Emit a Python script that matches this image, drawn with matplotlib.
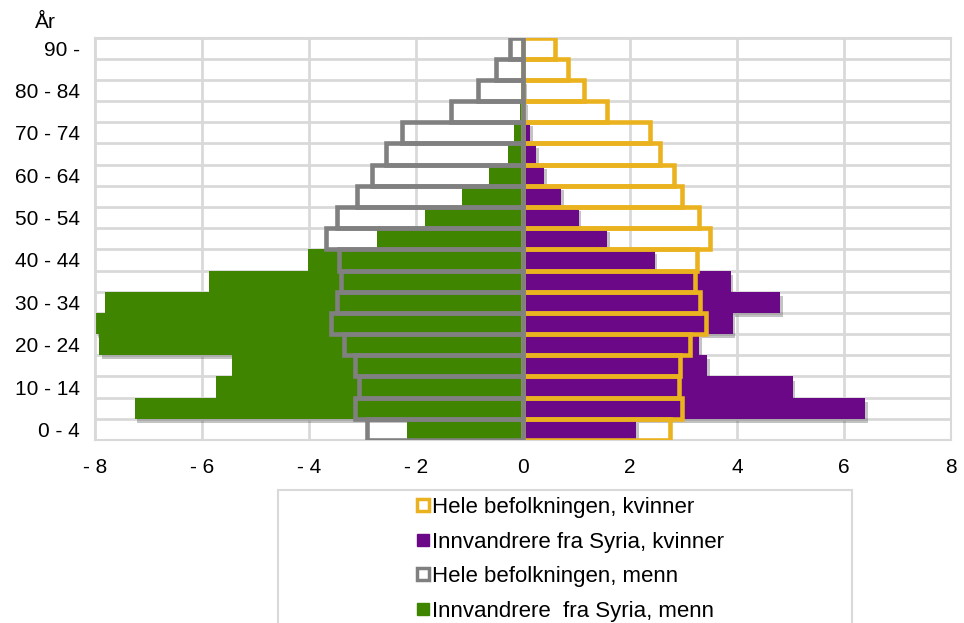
import matplotlib
matplotlib.use("Agg")
import matplotlib.pyplot as plt
import matplotlib.patheffects as pe
from matplotlib.lines import Line2D
from matplotlib.patches import Rectangle
import numpy as np

plt.rcParams['font.family'] = ['Liberation Sans', 'DejaVu Sans']

# Age groups, bottom to top
age_groups = ["0 - 4", "5 - 9", "10 - 14", "15 - 19", "20 - 24", "25 - 29",
              "30 - 34", "35 - 39", "40 - 44", "45 - 49", "50 - 54", "55 - 59",
              "60 - 64", "65 - 69", "70 - 74", "75 - 79", "80 - 84", "85 - 89",
              "90 -"]

# Percent of population (men negative)
men_total = [-2.91, -3.14, -3.06, -3.14, -3.34, -3.58, -3.47, -3.40, -3.44, -3.68,
             -3.47, -3.11, -2.83, -2.57, -2.27, -1.35, -0.84, -0.50, -0.25]
men_syria = [-2.16, -7.26, -5.74, -5.44, -7.92, -8.00, -7.81, -5.86, -4.02, -2.73,
             -1.83, -1.14, -0.63, -0.28, -0.16, -0.05, -0.03, -0.01, 0.0]
women_total = [2.75, 2.97, 2.91, 2.94, 3.12, 3.42, 3.30, 3.21, 3.25, 3.49,
               3.29, 2.97, 2.83, 2.56, 2.37, 1.57, 1.14, 0.85, 0.59]
women_syria = [2.12, 6.40, 5.04, 3.44, 3.29, 3.92, 4.81, 3.88, 2.46, 1.57,
               1.04, 0.71, 0.39, 0.25, 0.13, 0.04, 0.02, 0.01, 0.0]

x_ticks = [-8, -6, -4, -2, 0, 2, 4, 6, 8]
x_labels = ["- 8", "- 6", "- 4", "- 2", "0", "2", "4", "6", "8"]

legend_labels = ["Hele befolkningen, kvinner", "Innvandrere fra Syria, kvinner",
                 "Hele befolkningen, menn", "Innvandrere  fra Syria, menn"]

gold = '#EBB21F'
purple = '#6A0888'
gray = '#808080'
green = '#3F8500'
grid_col = '#D9D9D9'

fig = plt.figure(figsize=(9.64, 6.23), dpi=100)
ax = fig.add_axes([95 / 964, 1 - 440 / 623, (951 - 95) / 964, (440 - 37.5) / 623])

y = np.arange(len(age_groups))
shadow = [pe.SimplePatchShadow(offset=(2, -3), shadow_rgbFace='#555555', alpha=0.35),
          pe.Normal()]

# draw top rows first so lower bars cover the shadows above them
order = y[::-1]
ax.barh(order, np.array(men_syria)[order], height=1.0, color=green,
        zorder=2, path_effects=shadow)
ax.barh(order, np.array(women_syria)[order], height=1.0, color=purple,
        zorder=2, path_effects=shadow)
ax.barh(y, women_total, height=1.0, fill=False, edgecolor=gold,
        linewidth=3.3, zorder=3)
ax.barh(y, men_total, height=1.0, fill=False, edgecolor=gray,
        linewidth=3.3, zorder=4)

ax.set_xlim(-8, 8)
ax.set_ylim(-0.5, len(age_groups) - 0.5)
ax.set_xticks(x_ticks)
ax.set_xticklabels(x_labels)
ax.set_yticks(y[::2])
ax.set_yticklabels(age_groups[::2])
ax.set_yticks(np.arange(-0.5, len(age_groups)), minor=True)
ax.tick_params(axis='both', which='both', length=0, labelsize=15)
ax.tick_params(axis='x', pad=13)
ax.tick_params(axis='y', pad=11)
ax.grid(True, axis='x', which='major', color=grid_col, linewidth=2, zorder=0)
ax.grid(True, axis='y', which='minor', color=grid_col, linewidth=2, zorder=0)
ax.set_axisbelow(True)
for s in ax.spines.values():
    s.set_color(grid_col)
    s.set_linewidth(1.5)

fig.text(45 / 964, 1 - 22 / 623, "År", fontsize=15, ha='center', va='center')

# legend box (cut off at the bottom like the original)
fig.add_artist(Rectangle((278 / 964, -0.05), (852 - 278) / 964, 0.05 + (623 - 490) / 623,
                         transform=fig.transFigure, fill=False, edgecolor=grid_col,
                         linewidth=1.5))
handles = [
    Line2D([], [], linestyle='none', marker='s', markersize=8, markerfacecolor='white',
           markeredgecolor=gold, markeredgewidth=2.5),
    Line2D([], [], linestyle='none', marker='s', markersize=9, color=purple),
    Line2D([], [], linestyle='none', marker='s', markersize=8, markerfacecolor='white',
           markeredgecolor=gray, markeredgewidth=2.5),
    Line2D([], [], linestyle='none', marker='s', markersize=9, color=green),
]
fig.legend(handles, legend_labels, loc='upper left',
           bbox_to_anchor=(416 / 964, 1 - 497 / 623), frameon=False,
           fontsize=16, handlelength=0.6, handletextpad=0.1, labelspacing=0.61,
           borderpad=0, borderaxespad=0)

fig.savefig("out.png", dpi=100)
